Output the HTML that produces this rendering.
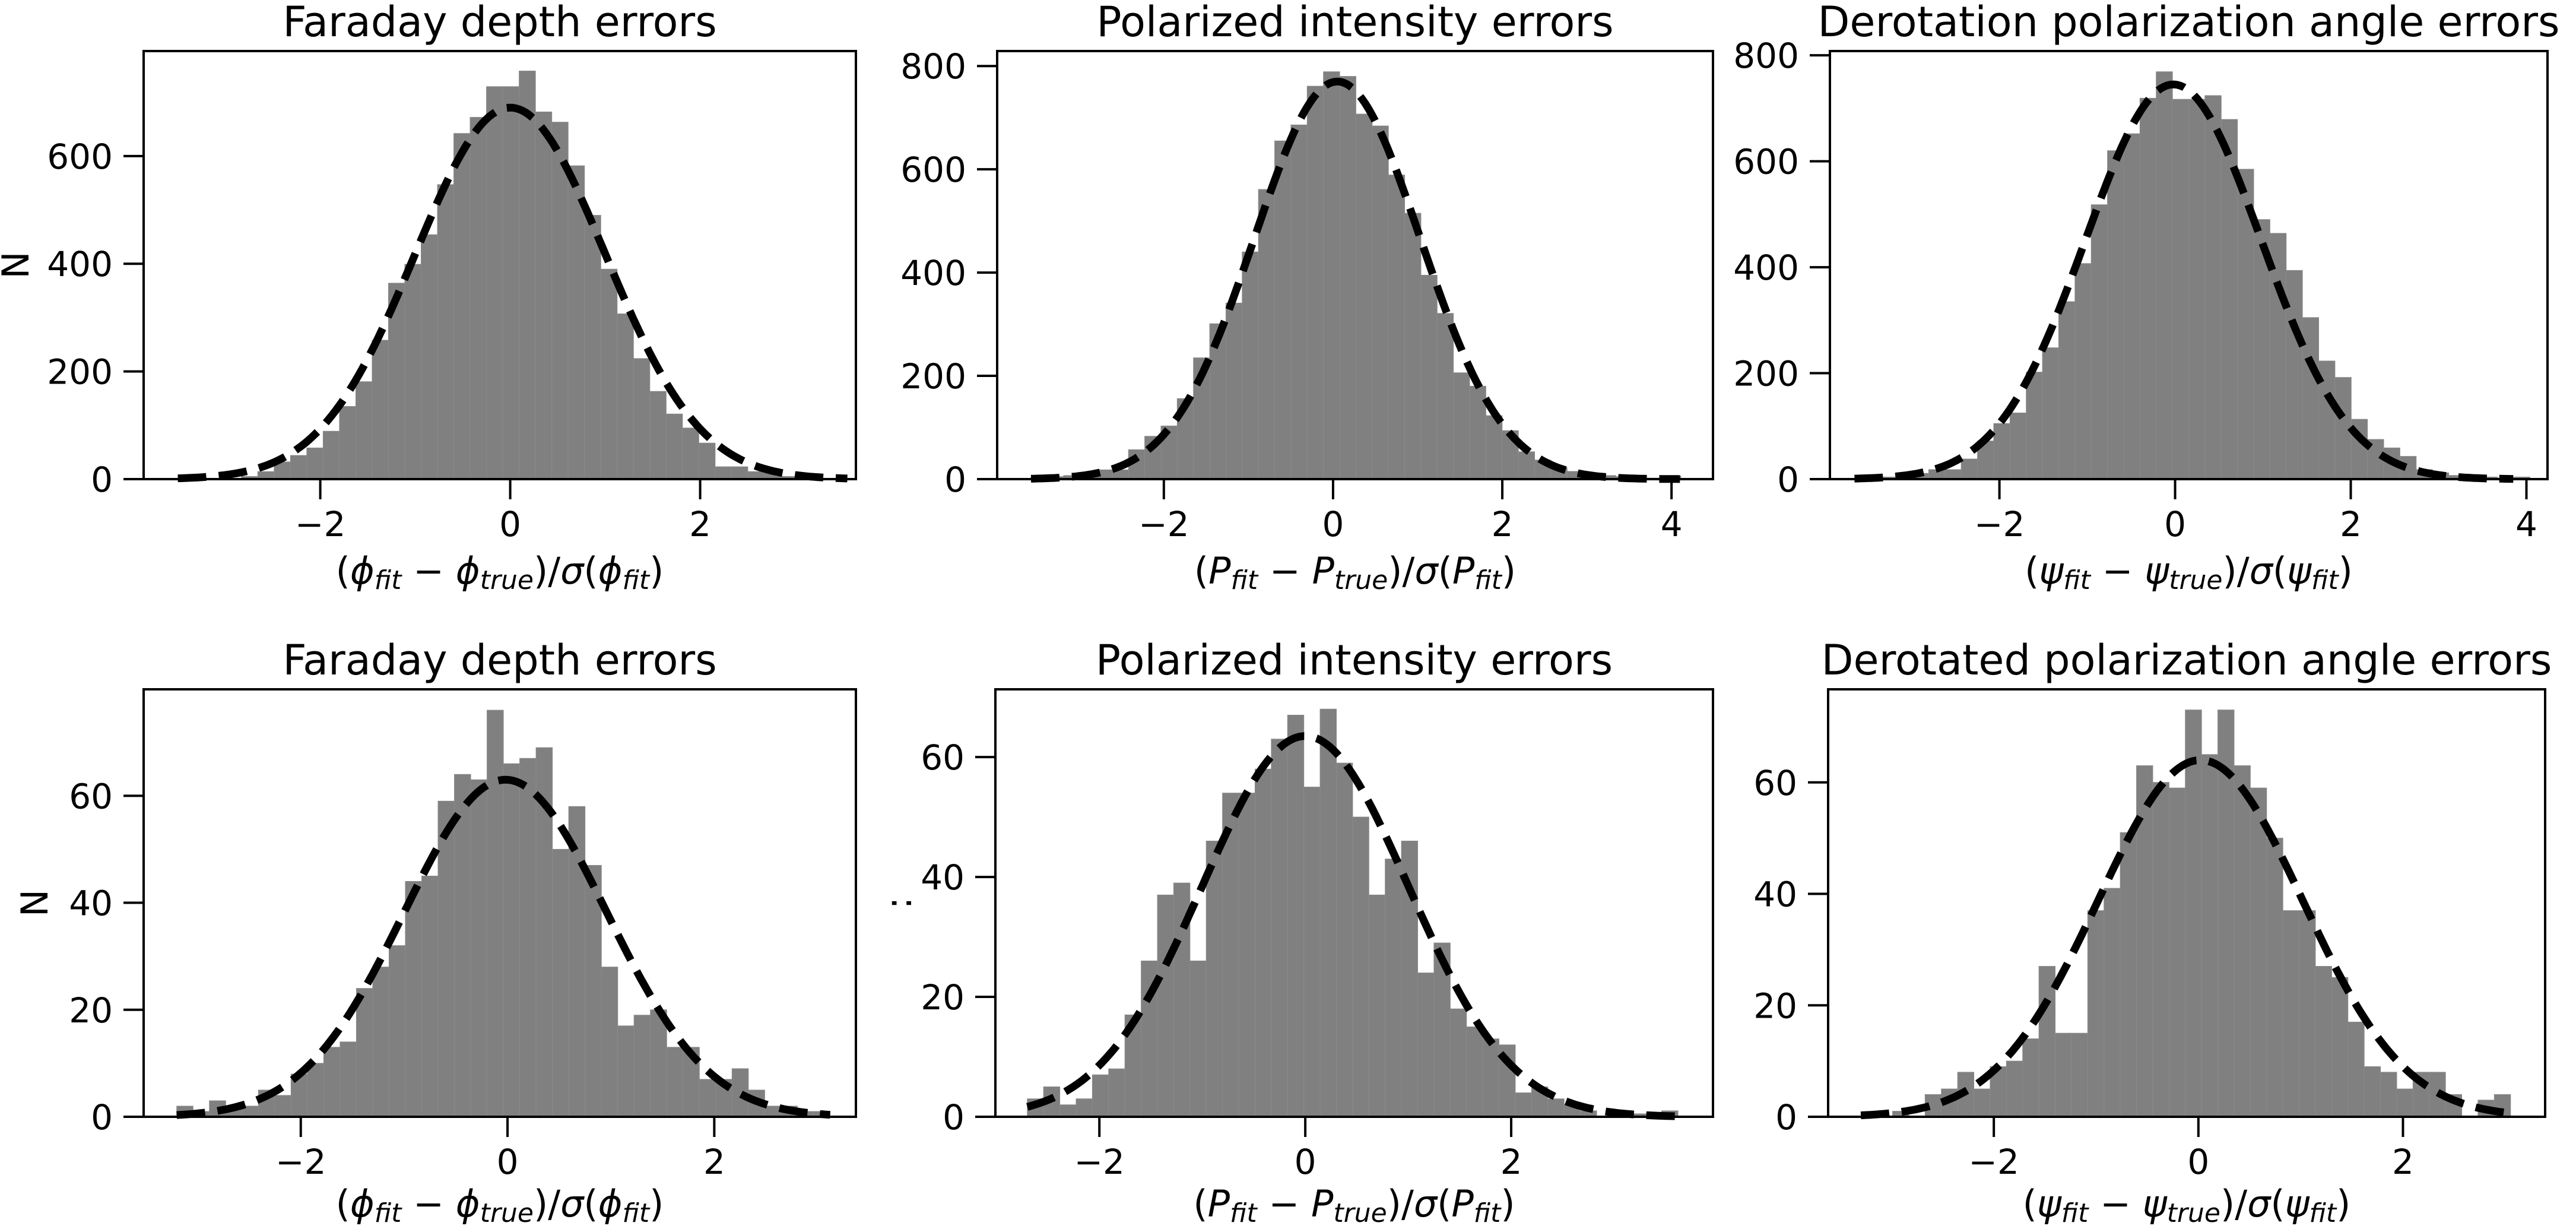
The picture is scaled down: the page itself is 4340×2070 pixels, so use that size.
<!DOCTYPE html>
<html><head><meta charset="utf-8"><style>
html,body{margin:0;padding:0;background:#fff;}
svg{display:block;font-family:"DejaVu Sans","Liberation Sans",sans-serif;}
</style></head><body>
<svg id="fig" width="4340" height="2070" viewBox="0 0 4340 2070" xmlns="http://www.w3.org/2000/svg"></svg>
<script>
// ---- data (one set of arrays per panel) ----
const titles = ["Faraday depth errors","Polarized intensity errors","Derotation polarization angle errors","Faraday depth errors","Polarized intensity errors","Derotated polarization angle errors"];
const binStart = [-2.83,-3.57,-3.36,-3.20,-2.70,-2.99];
const binWidth = [0.172,0.192,0.185,0.158,0.158,0.159];
const countsA = [5,14,32,44,58,89,135,181,258,364,399,454,547,642,672,729,729,758,682,663,582,490,390,307,224,163,121,95,67,23,23,14,12,5];
const countsB = [3,5,7,11,18,18,57,83,103,156,235,301,341,440,561,655,686,761,789,780,707,684,589,515,395,321,206,180,123,94,53,37,22,15,11,7,5,2,2,6];
const countsC = [4,5,11,18,18,38,72,105,125,202,248,335,407,518,620,652,719,769,717,717,724,679,585,490,464,394,305,223,192,113,75,59,43,18,12,7,5,4,2,4];
const countsD = [2,1,3,2,2,5,4,8,10,13,14,24,28,32,44,45,59,64,63,76,66,67,69,50,58,47,28,17,19,20,13,13,7,7,9,5,2,2,1,1];
const countsE = [3,5,2,3,7,8,17,26,37,39,26,46,54,54,58,63,67,55,68,59,50,37,43,46,24,29,18,15,13,12,4,5,3,2,1,0,1,0.5,0.5,1];
const countsF = [1,0,4,5,8,5,9,10,14,27,15,15,37,41,51,63,60,59,73,65,73,63,59,50,37,37,27,25,17,9,8,5,8,8,4,0,3,4];
const allCounts = [countsA,countsB,countsC,countsD,countsE,countsF];
const fitAmp = [690,770,745,63,63.5,64];
const fitMu = [0.0,0.05,-0.02,-0.02,0.0,0.02];
const fitSigma = [1.0,0.98,1.0,0.98,1.0,1.0];
const fitFrom = [-3.5,-3.57,-3.65,-3.2,-2.7,-3.3];
const fitTo = [3.55,4.1,3.85,3.12,3.62,3.0];
const xTicks = [[-2,0,2],[-2,0,2,4],[-2,0,2,4],[-2,0,2],[-2,0,2],[-2,0,2]];
const yTicks = [[0,200,400,600],[0,200,400,600,800],[0,200,400,600,800],[0,20,40,60],[0,20,40,60],[0,20,40,60]];
const xLimits = [[-3.86,3.64],[-3.97,4.49],[-3.93,4.24],[-3.52,3.37],[-3.01,3.96],[-3.62,3.39]];
const yLimits = [[0,795],[0,829],[0,808],[0,79.9],[0,71.3],[0,76.7]];
const labelVar = ["ϕ","P","ψ","ϕ","P","ψ"];
const yLabels = ["N","","","N",":",""];

// ---- layout ----
const boxes = [
  {l:242,r:1442,t:86,b:807},{l:1680,r:2886,t:86,b:807},{l:3083,r:4292,t:86,b:807},
  {l:242,r:1442,t:1161,b:1881},{l:1677,r:2886,t:1161,b:1881},{l:3080,r:4288,t:1161,b:1881}
];
const NS="http://www.w3.org/2000/svg";
const svg=document.getElementById('fig');
function mk(tag,attrs,parent){const e=document.createElementNS(NS,tag);for(const k in attrs)e.setAttribute(k,attrs[k]);(parent||svg).appendChild(e);return e;}

boxes.forEach((bx,i)=>{
  const g=mk('g',{});
  
  
  const [x0,x1]=xLimits[i],[y0,y1]=yLimits[i];
  const sx=v=>bx.l+(v-x0)/(x1-x0)*(bx.r-bx.l);
  const sy=v=>bx.b-(v-y0)/(y1-y0)*(bx.b-bx.t);
  allCounts[i].forEach((c,k)=>{
    const a=binStart[i]+k*binWidth[i], b=a+binWidth[i];
    const r=mk('rect',{x:sx(a),y:sy(c),width:sx(b)-sx(a),height:sy(0)-sy(c),fill:'#808080',stroke:'#8a8a8a','stroke-width':1},g);
    
    
  });
  let d='';const n=200;
  for(let k=0;k<=n;k++){const x=fitFrom[i]+(fitTo[i]-fitFrom[i])*k/n;const y=fitAmp[i]*Math.exp(-0.5*Math.pow((x-fitMu[i])/fitSigma[i],2));d+=(k?'L':'M')+sx(x).toFixed(1)+' '+sy(y).toFixed(1);}
  const p=mk('path',{d:d,fill:'none',stroke:'#000','stroke-width':13,'stroke-dasharray':'48 21'},g);
  
  
  const f=mk('rect',{x:bx.l,y:bx.t,width:bx.r-bx.l,height:bx.b-bx.t,fill:'none',stroke:'#000','stroke-width':4},g);
  
  
  xTicks[i].forEach(v=>{
    const X=sx(v);
    const t=mk('line',{x1:X,x2:X,y1:bx.b,y2:bx.b+34,stroke:'#000','stroke-width':4},g);
    
    
    const tx=mk('text',{x:X,y:bx.b+96,'font-size':58,'text-anchor':'middle'},g);
    tx.textContent=(v<0?'\u2212'+(-v):String(v));
    
    
  });
  yTicks[i].forEach(v=>{
    const Y=sy(v);
    const t=mk('line',{x1:bx.l-34,x2:bx.l,y1:Y,y2:Y,stroke:'#000','stroke-width':4},g);
    
    
    const tx=mk('text',{x:bx.l-52,y:Y+21,'font-size':58,'text-anchor':'end'},g);
    tx.textContent=String(v);
    
    
  });
  const ti=mk('text',{x:(bx.l+bx.r)/2,y:bx.t-25,'font-size':70,'text-anchor':'middle'},g);
  ti.textContent=titles[i];
  
  
  const v=labelVar[i];
  const xl=mk('text',{x:(bx.l+bx.r)/2,y:bx.b+(i<3?176:168),'font-size':62,'text-anchor':'middle'},g);
  
  
  const parts=[['(',0,0],[v,1,0],['fit',1,1],[' \u2212 ',0,0],[v,1,0],['true',1,1],[')/',0,0],['σ',1,0],['(',0,0],[v,1,0],['fit',1,1],[')',0,0]];
  let prevSub=false;
  parts.forEach(([s,it,sub])=>{
    const ts=mk('tspan',{},xl);
    if(it)ts.setAttribute('font-style','italic');
    let dy=0;
    if(sub&&!prevSub)dy=9;
    if(!sub&&prevSub)dy=-9;
    if(dy)ts.setAttribute('dy',dy);
    if(sub)ts.setAttribute('font-size','44');
    ts.textContent=s;
    prevSub=!!sub;
  });
  if(yLabels[i]){
    const yx=i===0?28:(i===3?60:1515);
    const yy=(bx.t+bx.b)/2;
    const yl=mk('text',{x:yx,y:yy+20,'font-size':62,'text-anchor':'middle',transform:'rotate(-90 '+yx+' '+yy+')'},g);
    yl.textContent=yLabels[i];
    
    
  }
});
</script>
</body></html>
